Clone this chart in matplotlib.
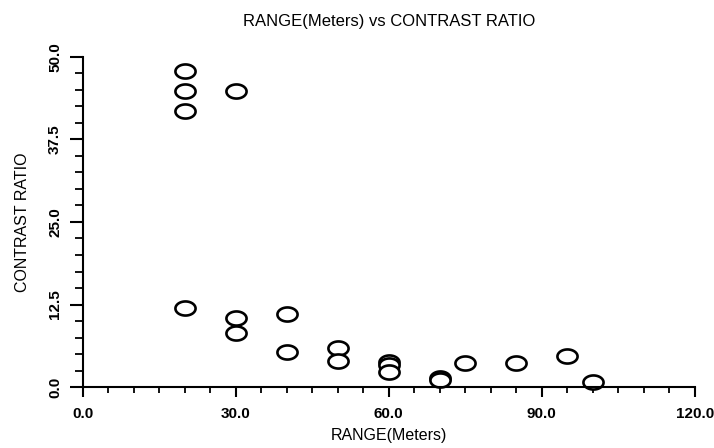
import matplotlib
matplotlib.use("Agg")
import matplotlib.pyplot as plt
from matplotlib.path import Path
from matplotlib.ticker import MultipleLocator, FormatStrFormatter
import numpy as np

range_m = [20, 20, 20, 30, 20, 30, 30, 40, 40, 50, 50, 60, 60, 60, 70, 70, 75, 85, 95, 100]
contrast = [47.9, 44.8, 41.8, 44.8, 12.0, 10.4, 8.2, 11.0, 5.3, 5.9, 4.0, 3.8, 3.4, 2.3, 1.4, 1.1, 3.6, 3.6, 4.7, 0.8]

title = "RANGE(Meters) vs CONTRAST RATIO"
xlabel = "RANGE(Meters)"
ylabel = "CONTRAST RATIO"

plt.rcParams['font.family'] = ['Liberation Sans', 'DejaVu Sans']

t = np.linspace(0, 2 * np.pi, 60)
ellipse = Path(np.column_stack([np.cos(t), 0.7 * np.sin(t)]), closed=True)

fig = plt.figure(figsize=(7.14, 4.48), dpi=100)
ax = fig.add_axes([0.116, 0.136, 0.857, 0.737])
ax.plot(range_m, contrast, linestyle='none', marker=ellipse, markersize=14.5,
        markerfacecolor='white', markeredgecolor='black', markeredgewidth=1.9,
        clip_on=False)

ax.set_xlim(0, 120)
ax.set_ylim(0, 50)
ax.xaxis.set_major_locator(MultipleLocator(30))
ax.xaxis.set_minor_locator(MultipleLocator(5))
ax.yaxis.set_major_locator(MultipleLocator(12.5))
ax.yaxis.set_minor_locator(MultipleLocator(2.5))
ax.xaxis.set_major_formatter(FormatStrFormatter('%.1f'))
ax.yaxis.set_major_formatter(FormatStrFormatter('%.1f'))

for s in ['top', 'right']:
    ax.spines[s].set_visible(False)
for s in ['left', 'bottom']:
    ax.spines[s].set_linewidth(1.5)

ax.tick_params(axis='x', which='major', direction='out', length=7.2, width=1.5, pad=7.5, labelsize=11)
ax.tick_params(axis='x', which='minor', direction='out', length=4.3, width=1.3)
ax.tick_params(axis='y', which='major', direction='out', length=9.4, width=1.5, pad=5.5, labelsize=11)
ax.tick_params(axis='y', which='minor', direction='out', length=5.8, width=1.3)
for lbl in ax.get_xticklabels() + ax.get_yticklabels():
    lbl.set_fontweight('bold')
for lbl in ax.get_yticklabels():
    lbl.set_rotation(90)
    lbl.set_va('center')

ax.set_xlabel(xlabel, fontsize=11.5, labelpad=5)
ax.set_ylabel(ylabel, fontsize=11.5, labelpad=13)
ax.set_title(title, fontsize=12, pad=22)

fig.savefig("out.png", dpi=100)
